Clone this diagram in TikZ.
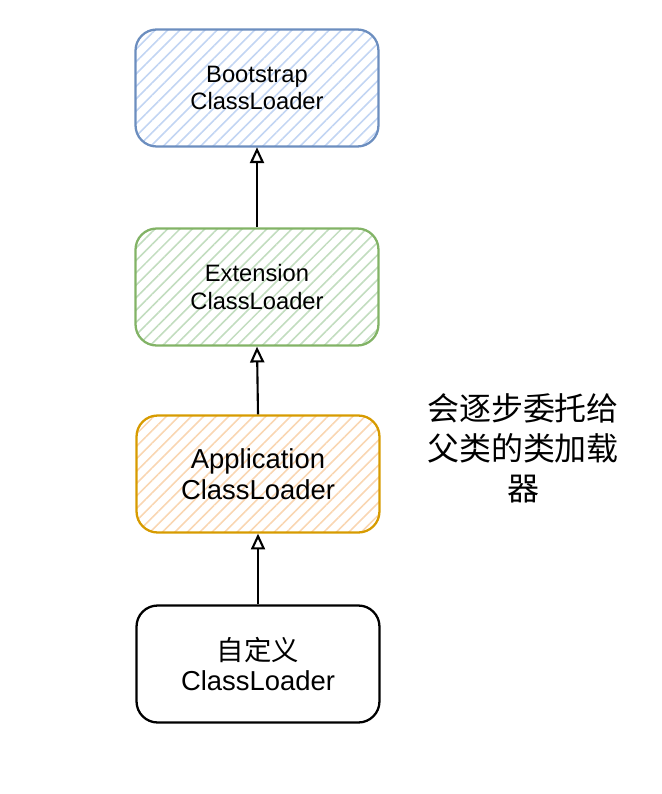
\documentclass[tikz,border=0pt]{standalone}
\usepackage{fontspec}
\setmainfont{Liberation Sans}
\newfontfamily\cjk{Noto Sans CJK SC}
\usetikzlibrary{arrows.meta, patterns.meta}
\definecolor{bsline}{HTML}{6C8EBF}
\definecolor{bsfill}{HTML}{C2D5F3}
\definecolor{exline}{HTML}{82B366}
\definecolor{exfill}{HTML}{C2DDBF}
\definecolor{apline}{HTML}{D79B00}
\definecolor{apfill}{HTML}{F9D6B2}
\tikzstyle{loader} = [rectangle, rounded corners=12pt, minimum width=4.86cm, minimum height=2.34cm, text centered, align=center, line width=1.3pt]
\tikzstyle{smalltext} = [font=\fontsize{13.5}{15.5}\selectfont]
\tikzstyle{bigtext} = [font=\fontsize{15.6}{17.5}\selectfont]
\tikzstyle{bootbox} = [loader, smalltext, draw=bsline, pattern={Lines[angle=45, distance=5pt, line width=0.9pt]}, pattern color=bsfill]
\tikzstyle{extbox} = [loader, smalltext, draw=exline, pattern={Lines[angle=45, distance=5pt, line width=0.9pt]}, pattern color=exfill]
\tikzstyle{appbox} = [loader, bigtext, draw=apline, pattern={Lines[angle=45, distance=5pt, line width=0.9pt]}, pattern color=apfill]
\tikzstyle{custbox} = [loader, bigtext, draw=black]
\tikzstyle{arrow} = [line width=1.2pt, -{Triangle[open, length=9pt, width=8pt]}]

\begin{document}
\begin{tikzpicture}[x=0.02cm, y=-0.02cm]
\useasboundingbox (0,0) rectangle (662,794);

% Nodes
\node (boot) [bootbox] at (257,88) {Bootstrap\\ClassLoader};
\node (ext) [extbox] at (257,287) {Extension\\ClassLoader};
\node (app) [appbox] at (258,474) {Application\\ClassLoader};
\node (cust) [custbox] at (258,664) {{\cjk 自定义}\\ClassLoader};
\node (note) [align=center, font=\cjk\fontsize{18.2}{22.7}\selectfont] at (523,448) {会逐步委托给\\父类的类加载\\器};

% Arrows
\draw [arrow] (cust.north) -- (app.south);
\draw [arrow] (app.north) -- (ext.south);
\draw [arrow] (ext.north) -- (boot.south);

\end{tikzpicture}
\end{document}
